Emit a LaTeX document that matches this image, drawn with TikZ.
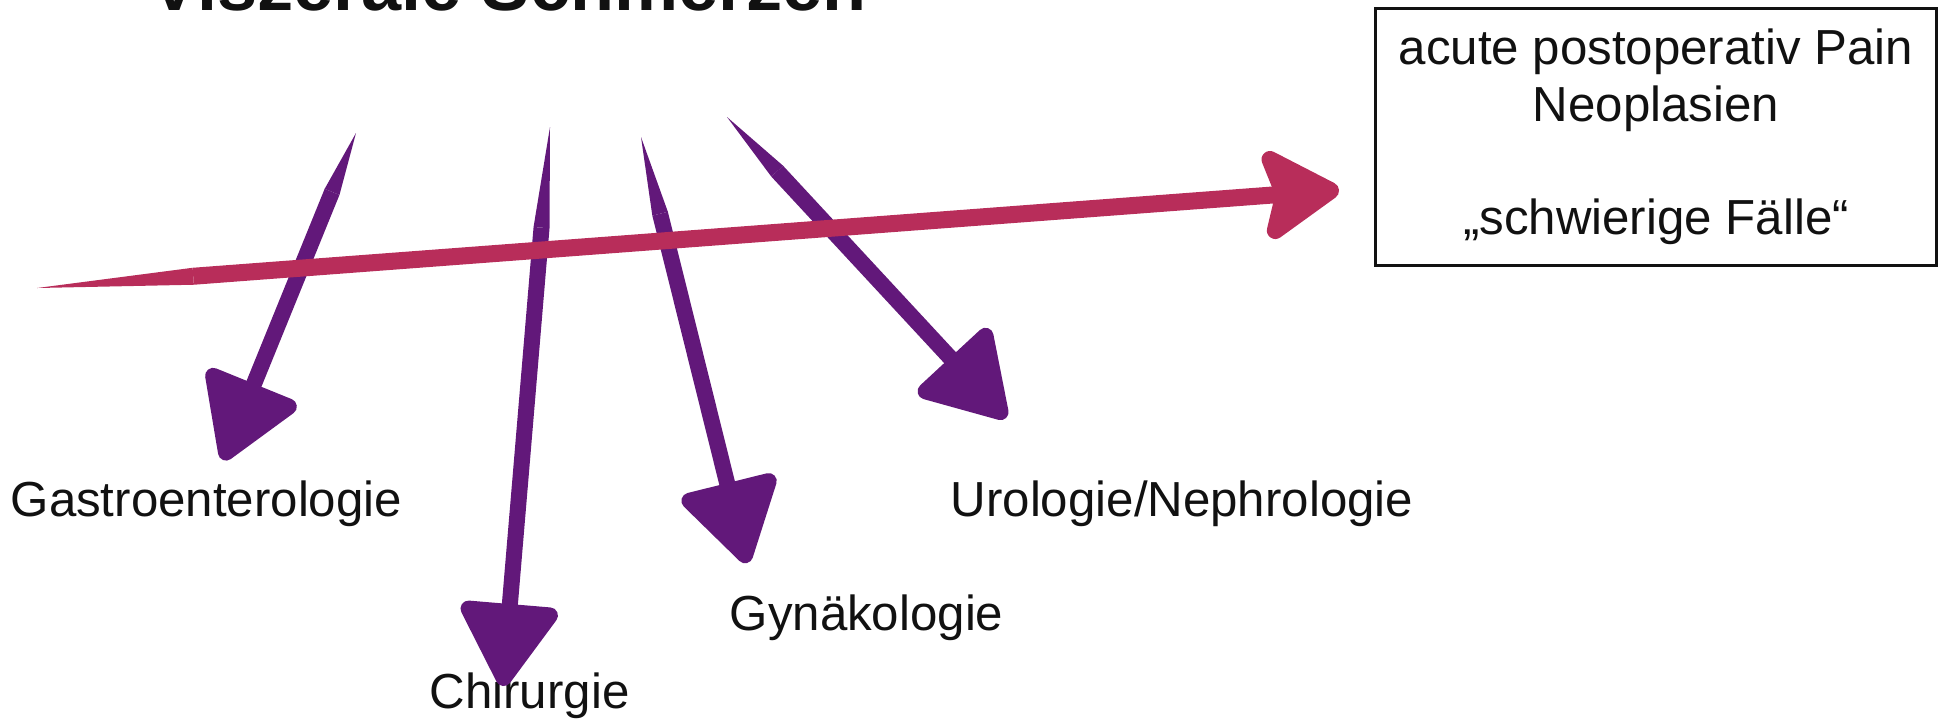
\documentclass[tikz,border=0pt]{standalone}
\usepackage{fontspec}
\setmainfont{Liberation Sans}
\usetikzlibrary{arrows.meta, positioning, calc}
\definecolor{Ink}{HTML}{111111}
\definecolor{Plum}{HTML}{62187A}
\definecolor{Berry}{HTML}{B82D5A}

\begin{document}
\begin{tikzpicture}[
    x=0.01cm, y=-0.01cm,
    heading/.style={anchor=base west, inner sep=0pt, font=\fontsize{20.5}{24}\selectfont\bfseries, text=Ink},
    field/.style={anchor=base west, inner sep=0pt, font=\fontsize{14}{17}\selectfont, text=Ink},
    infobox/.style={rectangle, draw=Ink, line width=0.9pt, minimum width=5.61cm, minimum height=2.57cm, align=center, font=\fontsize{14}{16.2}\selectfont, text=Ink},
    branch/.style={line width=0.16cm, color=Plum, -{Triangle[length=0.9cm, width=1.06cm, round]}},
    trend/.style={line width=0.17cm, color=Berry, -{Stealth[length=0.88cm, width=1.06cm, inset=0.16cm, round]}}
]
\useasboundingbox (0,0) rectangle (1939,720);
\clip (0,0) rectangle (1939,720);

\node[heading] (title) at (150,10) {Viszerale Schmerzen};
\node[infobox] (cases) at (1656,137) {acute postoperativ Pain\\Neoplasien\\[16pt]„schwierige Fälle“};

\node[field] (gastro) at (10,516) {Gastroenterologie};
\node[field] (chir) at (429,708) {Chirurgie};
\node[field] (gyn) at (729,630) {Gynäkologie};
\node[field] (uro) at (950,516) {Urologie/Nephrologie};

% brush strokes: thin tail, then full width
\coordinate (gastrotail) at (356,133);
\coordinate (gastrotip) at (223,460);
\coordinate (gastromid) at ($(gastrotail)!0.18!(gastrotip)$);
\fill[Plum] (gastrotail) -- ($(gastromid)!0.08cm!90:(gastrotail)$) -- ($(gastromid)!0.08cm!-90:(gastrotail)$) -- cycle;
\draw[branch] (gastromid) -- (gastrotip);

\coordinate (chirtail) at (550,127);
\coordinate (chirtip) at (503,686);
\coordinate (chirmid) at ($(chirtail)!0.18!(chirtip)$);
\fill[Plum] (chirtail) -- ($(chirmid)!0.08cm!90:(chirtail)$) -- ($(chirmid)!0.08cm!-90:(chirtail)$) -- cycle;
\draw[branch] (chirmid) -- (chirtip);

\coordinate (gyntail) at (641,137);
\coordinate (gyntip) at (747,563);
\coordinate (gynmid) at ($(gyntail)!0.18!(gyntip)$);
\fill[Plum] (gyntail) -- ($(gynmid)!0.08cm!90:(gyntail)$) -- ($(gynmid)!0.08cm!-90:(gyntail)$) -- cycle;
\draw[branch] (gynmid) -- (gyntip);

\coordinate (urotail) at (727,117);
\coordinate (urotip) at (1006,418);
\coordinate (uromid) at ($(urotail)!0.18!(urotip)$);
\fill[Plum] (urotail) -- ($(uromid)!0.08cm!90:(urotail)$) -- ($(uromid)!0.08cm!-90:(urotail)$) -- cycle;
\draw[branch] (uromid) -- (urotip);

% the long one on top
\coordinate (trendtail) at (37,288);
\coordinate (trendtip) at (1339,190);
\coordinate (trendmid) at ($(trendtail)!0.12!(trendtip)$);
\fill[Berry] (trendtail) -- ($(trendmid)!0.085cm!90:(trendtail)$) -- ($(trendmid)!0.085cm!-90:(trendtail)$) -- cycle;
\draw[trend] (trendmid) -- (trendtip);
\end{tikzpicture}
\end{document}
